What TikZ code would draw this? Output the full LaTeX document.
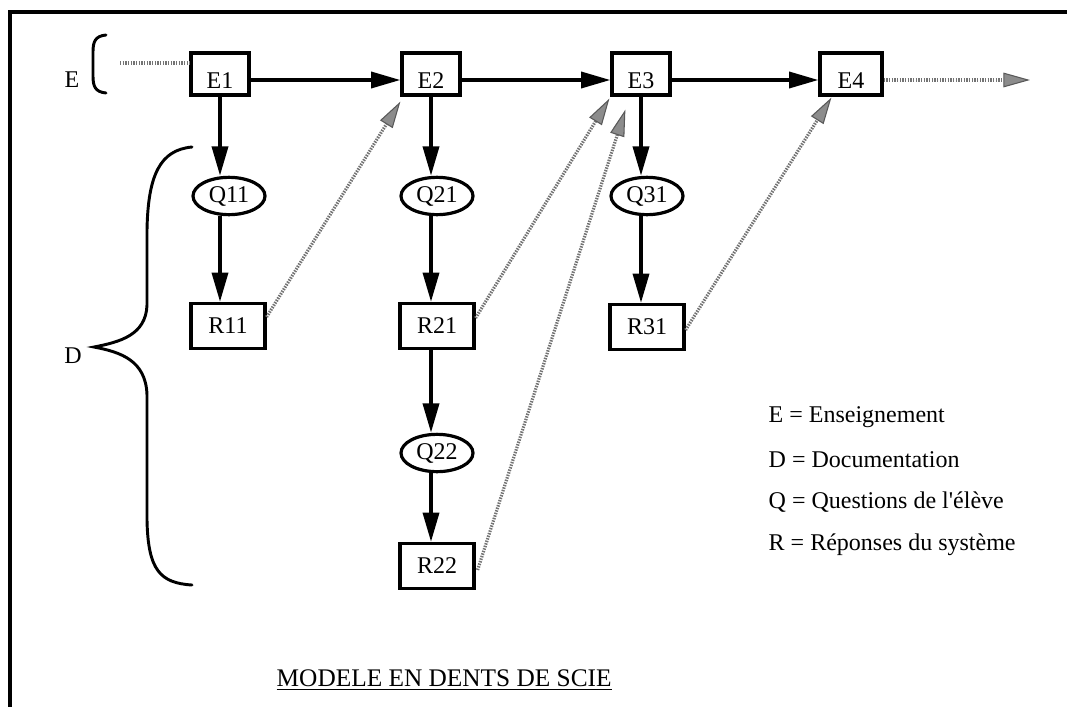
\documentclass[tikz,border=0pt]{standalone}
\usepackage{fontspec}
\setmainfont{Liberation Serif}
\usetikzlibrary{arrows.meta,calc,shapes.geometric}
\begin{document}
\begin{tikzpicture}[x=0.75pt,y=-0.75pt,
  txt/.style={font=\fontsize{18}{21}\selectfont},
  ebox/.style={txt,draw,line width=2.4pt,minimum width=43.5pt,minimum height=31.5pt,inner sep=0pt,text height=21pt,text depth=0pt},
  rbox/.style={txt,draw,line width=2.4pt,minimum width=55.5pt,minimum height=33.75pt,inner sep=0pt},
  qell/.style={txt,draw,ellipse,line width=2.4pt,minimum width=54pt,minimum height=28pt,inner sep=0pt},
  blk/.style={line width=2.7pt,-{Triangle[length=22pt,width=12pt]}},
  gline/.style={line width=2.4pt,draw=black!55,dash pattern=on 1.1pt off 0.9pt},
  garrow/.style={gline,-{Triangle[length=20pt,width=11pt,fill=black!45,color=black!65,line width=0.8pt]}},
  brace/.style={line width=2.2pt,line cap=round}
]
\useasboundingbox (0,0) rectangle (1067,707);
% frame
\draw[line width=2.4pt] (1067,12) -- (10,12) -- (10,707);

% E row
\node[ebox] (E1) at (220,74) {E1};
\node[ebox] (E2) at (431,74) {E2};
\node[ebox] (E3) at (641,74) {E3};
\node[ebox,minimum width=46.5pt] (E4) at (851,74) {E4};

% columns
\node[qell] (Q11) at (229,196) {Q11};
\node[rbox] (R11) at (228,326) {R11};
\node[qell] (Q21) at (437,196) {Q21};
\node[rbox] (R21) at (437,326) {R21};
\node[qell] (Q22) at (437,453) {Q22};
\node[rbox] (R22) at (437,566) {R22};
\node[qell] (Q31) at (647,196) {Q31};
\node[rbox] (R31) at (647,327) {R31};

% horizontal arrows
\draw[blk] ($(E1.east)+(0,6)$) -- ($(E2.west)+(0,6)$);
\draw[blk] ($(E2.east)+(0,6)$) -- ($(E3.west)+(0,6)$);
\draw[blk] ($(E3.east)+(0,6)$) -- ($(E4.west)+(0,6)$);

% vertical arrows
\draw[blk] (E1.south) -- (E1.south |- Q11.north);
\draw[blk] (E1.south |- Q11.south) -- (E1.south |- R11.north);
\draw[blk] (E2.south) -- (E2.south |- Q21.north);
\draw[blk] (E2.south |- Q21.south) -- (E2.south |- R21.north);
\draw[blk] (E2.south |- R21.south) -- (E2.south |- Q22.north);
\draw[blk] (E2.south |- Q22.south) -- (E2.south |- R22.north);
\draw[blk] (E3.south) -- (E3.south |- Q31.north);
\draw[blk] (E3.south |- Q31.south) -- (E3.south |- R31.north);

% gray dotted connectors
\coordinate (g0) at (120,63);
\coordinate (g1) at (1030,80);
\draw[gline] (g0) -- (E1.west |- g0);
\draw[garrow] ($(E4.east)+(0,6)$) -- (g1);
\draw[garrow] ($(R11.east)+(0,-9)$) -- ($(E2.south west)+(0,5)$);
\draw[garrow] ($(R21.east)+(0,-8)$) -- ($(E3.south west)+(-1,2)$);
\draw[garrow] ($(R22.east)+(2,4)$) -- ($(E3.south west)+(15,13)$);
\draw[garrow] ($(R31.east)+(0,3)$) -- ($(E4.south west)+(13,1)$);

% braces
\draw[brace] (106,35) .. controls (95,36) and (93,42) .. (93,52) -- (93,76) .. controls (93,86) and (95,92) .. (106,93);
\draw[brace] (192,147) .. controls (160,150) and (148,175) .. (147,230) -- (147,305)
  .. controls (146,335) and (120,342) .. (94,347)
  .. controls (120,352) and (146,360) .. (147,395) -- (147,520)
  .. controls (148,570) and (160,583) .. (192,585);

% labels
\node[txt] (lE) at (72,80) {E};
\node[txt] (lD) at (73,356) {D};

% legend
\node[txt,anchor=west] (leg1) at (764,417) {E = Enseignement};
\node[txt,anchor=west] (leg2) at (764,460) {D = Documentation};
\node[txt,anchor=west] (leg3) at (764,502) {Q = Questions de l\textquotesingle{}élève};
\node[txt,anchor=west] (leg4) at (764,545) {R = Réponses du système};

% title
\node[txt,anchor=west,font=\fontsize{19}{22}\selectfont] (title) at (272,680) {\underline{MODELE EN DENTS DE SCIE}};
\end{tikzpicture}
\end{document}
